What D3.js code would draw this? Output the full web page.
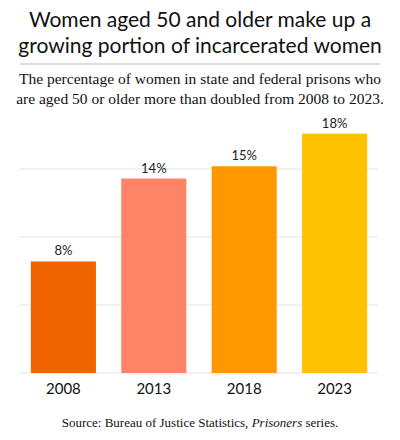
<!DOCTYPE html><html><head><meta charset="utf-8"><script src="https://cdn.jsdelivr.net/npm/d3@7"></script>
<style>body{margin:0;background:#fff}</style></head><body><svg id="c" width="400" height="440"></svg>
<script>
const categories=["2008","2013","2018","2023"];
const values=[8.2,14.3,15.2,17.6];
const labels=["8%","14%","15%","18%"];
const colors=["#f06400","#ff8366","#ff9800","#ffc200"];
const gridTicks=[0,5,10,15];
const svg=d3.select("#c");
svg.append("text").attr("x",200).attr("y",27).attr("text-anchor","middle").attr("font-family","Lato, sans-serif").attr("font-size",21).attr("fill","#111").text("Women aged 50 and older make up a");
svg.append("text").attr("x",200).attr("y",53).attr("text-anchor","middle").attr("font-family","Lato, sans-serif").attr("font-size",21).attr("fill","#111").text("growing portion of incarcerated women");
svg.append("line").attr("x1",20).attr("x2",380).attr("y1",64).attr("y2",64).attr("stroke","#bbb");
["The percentage of women in state and federal prisons who","are aged 50 or older more than doubled from 2008 to 2023."].forEach((t,i)=>
svg.append("text").attr("x",200).attr("y",84+i*20).attr("text-anchor","middle").attr("font-family","Liberation Serif, serif").attr("font-size",15.5).attr("fill","#111").text(t));
const x=d3.scaleBand().domain(categories).range([20,378]).paddingInner(0.28).paddingOuter(0.12);
const y=d3.scaleLinear().domain([0,5]).range([373,305]);
svg.selectAll(".g").data(gridTicks).join("line").attr("x1",20).attr("x2",378).attr("y1",d=>y(d)).attr("y2",d=>y(d)).attr("stroke","#e3e3e3").attr("stroke-width",1);
svg.selectAll(".b").data(values).join("rect").attr("x",(d,i)=>x(categories[i])).attr("width",x.bandwidth()).attr("y",d=>y(d)).attr("height",d=>y(0)-y(d)).attr("fill",(d,i)=>colors[i]);
svg.selectAll(".l").data(values).join("text").attr("x",(d,i)=>x(categories[i])+x.bandwidth()/2).attr("y",d=>y(d)-6).attr("text-anchor","middle").attr("font-family","Lato, sans-serif").attr("font-size",13).attr("fill","#222").text((d,i)=>labels[i]);
svg.append("g").attr("transform","translate(0,373)").call(d3.axisBottom(x).tickSize(0).tickPadding(10)).call(g=>g.select(".domain").remove()).selectAll("text").attr("font-family","Lato, sans-serif").attr("font-size",15).attr("fill","#111");
const s=svg.append("text").attr("x",200).attr("y",427).attr("text-anchor","middle").attr("font-family","Liberation Serif, serif").attr("font-size",13).attr("fill","#111");
s.append("tspan").text("Source: Bureau of Justice Statistics, ");s.append("tspan").attr("font-style","italic").text("Prisoners");s.append("tspan").text(" series.");
</script></body></html>
